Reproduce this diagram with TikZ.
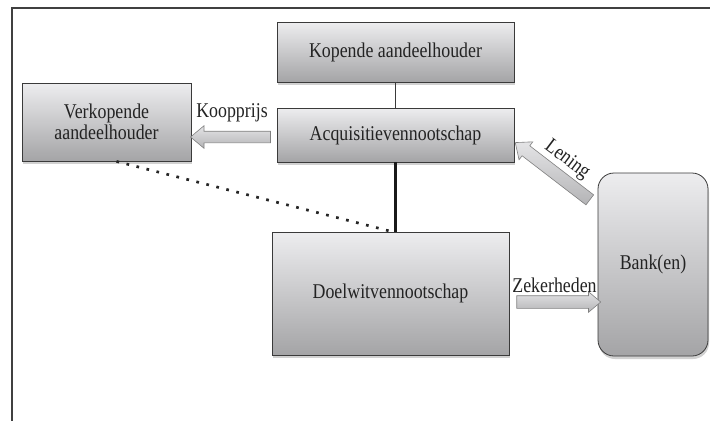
\documentclass[tikz,border=0pt]{standalone}
\usepackage{fontspec}
\setmainfont{Liberation Serif}[FakeStretch=0.85]
\usetikzlibrary{shapes.arrows,shadows,calc}
\definecolor{boxline}{HTML}{3A3A3A}
\definecolor{boxtop}{HTML}{EDEDEF}
\definecolor{boxbot}{HTML}{A4A4A6}
\definecolor{arrtop}{HTML}{E4E4E6}
\definecolor{arrbot}{HTML}{B4B4B6}
\definecolor{txt}{HTML}{232323}
\begin{document}
\begin{tikzpicture}[x=1pt,y=-1pt,
  box/.style={draw=boxline, line width=0.8pt, top color=boxtop, bottom color=boxbot,
    drop shadow={shadow xshift=1pt, shadow yshift=-3pt, opacity=0.18, fill=black},
    text=txt, font=\fontsize{21}{22}\selectfont, align=center, inner sep=0pt},
  barrow/.style={single arrow, draw=black!50, line width=0.6pt, top color=arrtop, bottom color=arrbot,
    single arrow head indent=0pt, single arrow tip angle=80,
    inner sep=0pt, text height=6pt, text depth=6pt, text width=0pt, sloped, allow upside down, midway},
  lbl/.style={font=\fontsize{21}{22}\selectfont, text=txt, inner sep=0pt},
  thinline/.style={draw=boxline, line width=0.9pt},
  thickline/.style={draw=black!90, line width=2.7pt},
  dotline/.style={draw=black!85, line width=2.7pt, dash pattern=on 2.7pt off 7.6pt}]
\useasboundingbox (0,0) rectangle (710,421);
% frame
\draw[draw=black!75, line width=1.2pt] (710,8) -- (12,8) -- (12,421);
% boxes
\node[box, minimum width=237pt, minimum height=60pt] (kop) at (395.5,52) {Kopende aandeelhouder};
\node[box, minimum width=237pt, minimum height=54pt] (acq) at (395.5,135) {\raisebox{-2pt}{Acquisitievennootschap}};
\node[box, minimum width=169pt, minimum height=78pt] (verk) at (106.5,122) {\raisebox{-4pt}{\shortstack{Verkopende\\[-1pt]aandeelhouder}}};
\node[box, minimum width=237pt, minimum height=123pt] (doel) at (390.5,293.5) {Doelwitvennootschap};
\node[box, rounded corners=16pt, minimum width=110pt, minimum height=183pt] (bank) at (653,264.5) {Bank(en)};
% connectors
\draw[thinline] (kop.south) -- (acq.north);
\draw[thickline] (acq.south) -- (acq.south |- doel.north);
\draw[dotline] ($(verk.south)+(10,0)$) -- ($(doel.north)+(1.5,0)$);
% block arrows
\coordinate (k1) at ($(acq.west)+(-3,2)$);
\coordinate (k2) at ($(k1 -| verk.east)+(3,0)$);
\path (k1) -- (k2) node[barrow, minimum height=80pt, single arrow head extend=5.5pt, text height=5.5pt, text depth=5.5pt] (ak) {};
\coordinate (z1) at ($(doel.east)+(4,8.5)$);
\coordinate (z2) at ($(z1 -| bank.west)+(-1,0)$);
\path (z1) -- (z2) node[barrow, minimum height=84pt, single arrow head extend=4pt] (az) {};
\coordinate (l1) at ($(bank.west)+(-5,-62.5)$);
\coordinate (l2) at ($(acq.east)+(4,10)$);
\path (l1) -- (l2) node[barrow, minimum height=94pt, single arrow head extend=5pt] (al) {};
% labels
\node[lbl] (tkp) at (232,113) {Koopprijs};
\node[lbl] (tzk) at (554.5,285) {Zekerheden};
\node[lbl, rotate=-37] (tln) at (567,160) {Lening};
\end{tikzpicture}
\end{document}
